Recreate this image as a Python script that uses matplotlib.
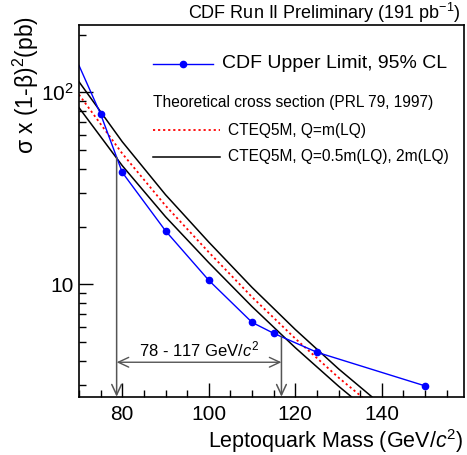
import numpy as np
import matplotlib.pyplot as plt
from matplotlib.lines import Line2D
from matplotlib.ticker import MultipleLocator, LogLocator, NullFormatter, FixedLocator, FixedFormatter

plt.rcParams['font.family'] = ['Liberation Sans', 'DejaVu Sans']
plt.rcParams['mathtext.fontset'] = 'custom'
plt.rcParams['mathtext.rm'] = 'Liberation Sans'
plt.rcParams['mathtext.it'] = 'Liberation Sans:italic'

# CDF 95% CL upper limit (pb)
limit_mass = [70, 75, 80, 90, 100, 110, 115, 125, 150]
limit_xsec = [138, 77, 38.3, 19.0, 10.5, 6.34, 5.56, 4.43, 2.96]

# theory (CTEQ5M), Q = m(LQ) and the 0.5m / 2m band
theo_mass = [70, 80, 90, 100, 110, 120, 130, 140, 150]
theo_central = [97.3, 48.0, 25.7, 14.7, 8.59, 5.22, 3.27, 2.13, 1.43]
theo_low = [83.2, 41.5, 22.5, 12.97, 7.66, 4.68, 2.95, 1.92, 1.29]
theo_high = [113.5, 55.3, 29.3, 16.6, 9.64, 5.82, 3.63, 2.35, 1.57]

# excluded mass range
excl_lo, excl_hi = 78.7, 116.8
excl_label = "78 - 117 GeV/$c^2$"

W, H = 467, 455
fig = plt.figure(figsize=(W / 100, H / 100), dpi=100)
ax = fig.add_axes([79 / W, 1 - 396.7 / H, (464 - 79) / W, (396.7 - 24.7) / H])

ax.set_yscale('log')
ax.set_xlim(70, 159)
ax.set_ylim(2.6, 225)

ax.plot(theo_mass, theo_high, color='black', lw=1.1)
ax.plot(theo_mass, theo_low, color='black', lw=1.1)
ax.plot(theo_mass, theo_central, color='red', lw=1.3, linestyle=(0, (1.2, 1.6)))
ax.plot(limit_mass, limit_xsec, color='blue', lw=1.0, marker='o', ms=4.5,
        markevery=slice(1, None))

# exclusion arrows
log_lim = np.log10(limit_xsec)
grey = '#555555'
arr = dict(arrowstyle='->, head_length=0.75, head_width=0.35', color=grey,
           lw=1.1, shrinkA=0, shrinkB=0)
ymin = ax.get_ylim()[0]
for m in (excl_lo, excl_hi):
    ytop = 10 ** np.interp(m, limit_mass, log_lim)
    ax.annotate('', xy=(m, ymin), xytext=(m, ytop), arrowprops=arr)
arr2 = dict(arrowstyle='<->, head_length=0.75, head_width=0.35', color=grey,
            lw=1.0, shrinkA=0, shrinkB=0)
ax.annotate('', xy=(excl_lo, 3.93), xytext=(excl_hi, 3.93), arrowprops=arr2)
ax.text((excl_lo + excl_hi) / 2, 4.05, excl_label, ha='center', va='bottom', fontsize=12)

# axes style
ax.xaxis.set_major_locator(MultipleLocator(20))
ax.xaxis.set_minor_locator(MultipleLocator(5))
ax.yaxis.set_major_locator(FixedLocator([10, 100]))
ax.yaxis.set_major_formatter(FixedFormatter(['10', '$10^2$']))
ax.yaxis.set_minor_locator(LogLocator(base=10, subs=np.arange(2, 10)))
ax.yaxis.set_minor_formatter(NullFormatter())
ax.tick_params(which='both', direction='in', top=False, right=False, labelsize=15)
ax.tick_params(which='major', length=10, width=1.0)
ax.tick_params(which='minor', length=5, width=1.0)
ax.tick_params(axis='x', pad=6)
for s in ax.spines.values():
    s.set_linewidth(1.2)

ax.set_xlabel('Leptoquark Mass (GeV/$c^2$)', fontsize=15.5, loc='right', labelpad=2)
fig.text(26 / W, 1 - 16 / H, 'σ x (1-β)$^2$(pb)', rotation=90, ha='center', va='top',
         fontsize=16.5)
fig.text(461 / W, 1 - 13 / H, 'CDF Run II Preliminary (191 pb$^{-1}$)', ha='right',
         va='center', fontsize=13)

# legend
def fx(x):
    return x / W


def fy(y):
    return 1 - y / H


fig.add_artist(Line2D([fx(153), fx(213)], [fy(64), fy(64)], color='blue', lw=1.0))
fig.add_artist(Line2D([fx(183)], [fy(64)], color='blue', marker='o', ms=4.5))
fig.text(fx(222), fy(64), 'CDF Upper Limit, 95% CL', va='center', fontsize=14)
fig.text(fx(153), fy(103), 'Theoretical cross section (PRL 79, 1997)', va='center',
         fontsize=11.2)
fig.add_artist(Line2D([fx(153), fx(220)], [fy(130), fy(130)], color='red', lw=1.3,
                      linestyle=(0, (1.2, 1.6))))
fig.text(fx(228), fy(130), 'CTEQ5M, Q=m(LQ)', va='center', fontsize=11.2)
fig.add_artist(Line2D([fx(153), fx(220)], [fy(157), fy(157)], color='black', lw=1.1))
fig.text(fx(228), fy(157), 'CTEQ5M, Q=0.5m(LQ), 2m(LQ)', va='center', fontsize=11.2)

fig.savefig('out.png', dpi=100)
